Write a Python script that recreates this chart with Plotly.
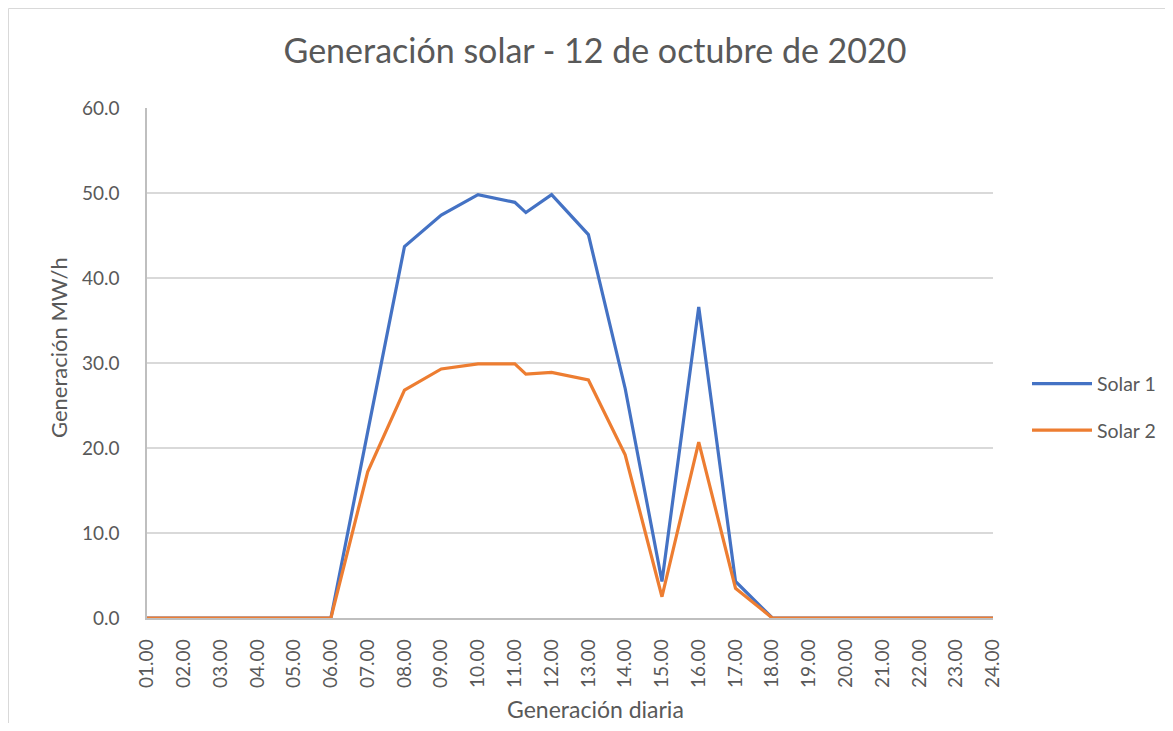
import plotly.graph_objects as go

hours = [1, 2, 3, 4, 5, 6, 7, 8, 9, 10, 11, 11.3, 12, 13, 14, 15, 16, 17, 18, 19, 20, 21, 22, 23, 24]
solar1 = [0, 0, 0, 0, 0, 0, 21.9, 43.7, 47.4, 49.8, 48.9, 47.7, 49.8, 45.1, 27.0, 4.3, 36.6, 4.3, 0, 0, 0, 0, 0, 0, 0]
solar2 = [0, 0, 0, 0, 0, 0, 17.2, 26.8, 29.3, 29.9, 29.9, 28.7, 28.9, 28.0, 19.2, 2.5, 20.7, 3.5, 0, 0, 0, 0, 0, 0, 0]
tick_vals = list(range(1, 25))
tick_text = ["%02d.00" % h for h in tick_vals]
y_ticks = [0, 10, 20, 30, 40, 50, 60]

FONT = "Lato"
GREY = "#595959"

# page has an 8px body margin; figure origin is at page (8, 8)
OFF = 8
W, H = 1173 - 2 * OFF, 731 - 2 * OFF
L, R, T, B = 147 - OFF, 993 - OFF, 108 - OFF, 618 - OFF

fig = go.Figure()
fig.add_trace(go.Scatter(x=hours, y=solar1, mode="lines", name="Solar 1", legendgroup="a",
                         line=dict(color="#4472C4", width=3.2)))
fig.add_trace(go.Scatter(x=hours, y=solar2, mode="lines", name="Solar 2", legendgroup="b",
                         line=dict(color="#ED7D31", width=3.2)))

def px_x(p):
    return (p - OFF - L) / (R - L)

def px_y(p):
    return (B - (p - OFF)) / (B - T)

fig.update_layout(
    width=W, height=H,
    margin=dict(l=L, r=W - R, t=T, b=H - B, autoexpand=False),
    paper_bgcolor="white", plot_bgcolor="white",
    font=dict(family=FONT, color=GREY),
    title=dict(text="Generación solar - 12 de octubre de 2020",
               x=px_x(595), xref="paper", xanchor="center",
               y=1 - (51 - OFF) / H, yref="container", yanchor="middle",
               font=dict(size=34, color=GREY, family=FONT)),
    xaxis=dict(range=[1, 24], tickvals=tick_vals, ticktext=tick_text,
               tickangle=-90, tickfont=dict(size=19, color=GREY),
               showgrid=False, showline=True, linecolor="#BFBFBF", linewidth=1.5,
               zeroline=False, ticks="", ticklabelstandoff=12),
    yaxis=dict(range=[0, 60], tickvals=y_ticks, tickformat=".1f",
               tickfont=dict(size=19, color=GREY),
               showgrid=True, gridcolor="#D9D9D9", gridwidth=1.5,
               showline=True, linecolor="#BFBFBF", linewidth=1.5,
               zeroline=False, ticks="", ticklabelstandoff=22),
    legend=dict(x=px_x(1027), y=px_y(407), xanchor="left", yanchor="middle",
                font=dict(size=19.5, color=GREY), traceorder="grouped", tracegroupgap=18,
                itemwidth=60, bgcolor="rgba(0,0,0,0)"),
    showlegend=True,
)

fig.add_annotation(text="Generación MW/h", textangle=-90,
                   x=px_x(58), y=px_y(348), xref="paper", yref="paper",
                   xanchor="center", yanchor="middle",
                   showarrow=False, font=dict(size=22, color=GREY))
fig.add_annotation(text="Generación diaria",
                   x=px_x(595), y=px_y(709), xref="paper", yref="paper",
                   xanchor="center", yanchor="middle",
                   showarrow=False, font=dict(size=23, color=GREY))

# chart area border (top and left edges visible)
fig.add_shape(type="line", xref="paper", yref="paper",
              x0=px_x(8.5), x1=px_x(1200), y0=px_y(8.5), y1=px_y(8.5),
              line=dict(color="#D9D9D9", width=1))
fig.add_shape(type="line", xref="paper", yref="paper",
              x0=px_x(8.5), x1=px_x(8.5), y0=px_y(8.5), y1=px_y(760),
              line=dict(color="#D9D9D9", width=1))

fig.write_html("out.html")
